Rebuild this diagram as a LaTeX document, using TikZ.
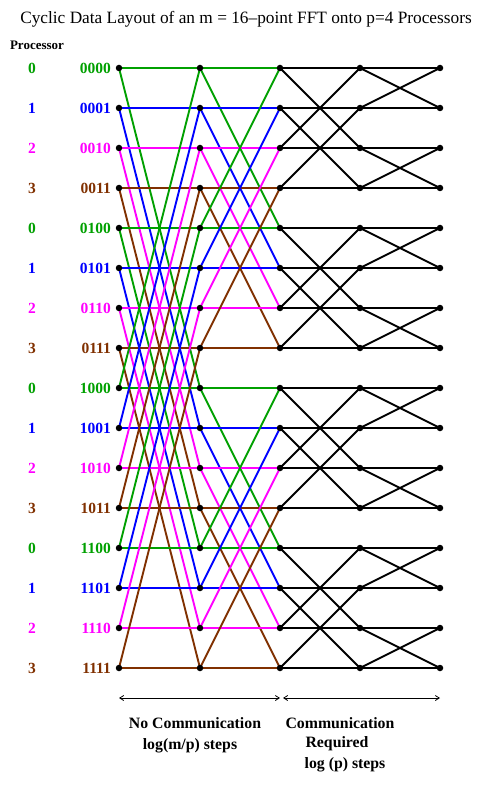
\documentclass[tikz,border=0pt]{standalone}
\usepackage{fontspec}
\setmainfont{Liberation Serif}
\usetikzlibrary{arrows.meta}
\definecolor{pg}{RGB}{0,160,0}
\definecolor{pb}{RGB}{0,0,255}
\definecolor{pm}{RGB}{255,0,255}
\definecolor{pr}{RGB}{128,48,0}
\begin{document}
\begin{tikzpicture}[x=1pt,y=-1pt,
  dot/.style={circle,fill=black,inner sep=0pt,minimum size=6.5pt},
  wire/.style={line width=1.9pt},
  lbl/.style={font=\bfseries\fontsize{15.5}{17}\selectfont,inner sep=0pt},
  btm/.style={font=\bfseries\fontsize{15.8}{18}\selectfont,inner sep=0pt},
  span/.style={line width=0.8pt,{Straight Barb[length=4pt,width=5pt]}-{Straight Barb[length=4pt,width=5pt]}}]
\useasboundingbox (0,0) rectangle (486,786);
% coordinates
\foreach \c/\x in {0/119,1/200,2/280,3/360,4/440}{
  \foreach \r in {0,...,15}{
    \coordinate (n\c-\r) at (\x,68+40*\r);
  }
}
% black stages 3 and 4
\foreach \r in {0,...,15}{
  \pgfmathtruncatemacro\p{\r+(mod(floor(\r/2),2)==0 ? 2 : -2)}
  \pgfmathtruncatemacro\q{\r+(mod(\r,2)==0 ? 1 : -1)}
  \draw[wire,black] (n2-\r) -- (n3-\r) (n2-\r) -- (n3-\p);
  \draw[wire,black] (n3-\r) -- (n4-\r) (n3-\r) -- (n4-\q);
}
% coloured stages 1 and 2
\foreach \r/\col in {0/pg,1/pb,2/pm,3/pr,4/pg,5/pb,6/pm,7/pr,8/pg,9/pb,10/pm,11/pr,12/pg,13/pb,14/pm,15/pr}{
  \pgfmathtruncatemacro\p{\r+(\r<8 ? 8 : -8)}
  \pgfmathtruncatemacro\q{\r+(mod(floor(\r/4),2)==0 ? 4 : -4)}
  \draw[wire,\col] (n0-\r) -- (n1-\r) (n0-\r) -- (n1-\p);
  \draw[wire,\col] (n1-\r) -- (n2-\r) (n1-\r) -- (n2-\q);
}
% dots
\foreach \c in {0,...,4}{
  \foreach \r in {0,...,15}{
    \node[dot] (d\c-\r) at (n\c-\r) {};
  }
}
% labels
\foreach \r/\col/\b in {0/pg/0000,1/pb/0001,2/pm/0010,3/pr/0011,4/pg/0100,5/pb/0101,6/pm/0110,7/pr/0111,8/pg/1000,9/pb/1001,10/pm/1010,11/pr/1011,12/pg/1100,13/pb/1101,14/pm/1110,15/pr/1111}{
  \pgfmathtruncatemacro\m{mod(\r,4)}
  \node[lbl,text=\col] (p\r) at (32,68+40*\r) {\m};
  \node[lbl,text=\col,anchor=east] (b\r) at (111,68+40*\r) {\b};
}
\node[font=\fontsize{17.3}{20}\selectfont,inner sep=0pt] (title) at (246,19) {Cyclic Data Layout of an m = 16--point FFT onto p=4 Processors};
\node[font=\bfseries\fontsize{13}{15}\selectfont,inner sep=0pt] (proc) at (37,45) {Processor};
% bottom spans
\coordinate (s1) at (119,698);
\coordinate (s2) at (280,698);
\coordinate (s3) at (283,698);
\coordinate (s4) at (440,698);
\draw[span] (s1) -- (s2);
\draw[span] (s3) -- (s4);
\node[btm] (t1) at (195,723) {No Communication};
\node[btm] (t2) at (190,746) {log(m/p) steps};
\node[btm] (t3) at (340,723) {Communication};
\node[btm] (t4) at (337,744) {Required};
\node[btm] (t5) at (345,765) {log (p) steps};
\end{tikzpicture}
\end{document}
